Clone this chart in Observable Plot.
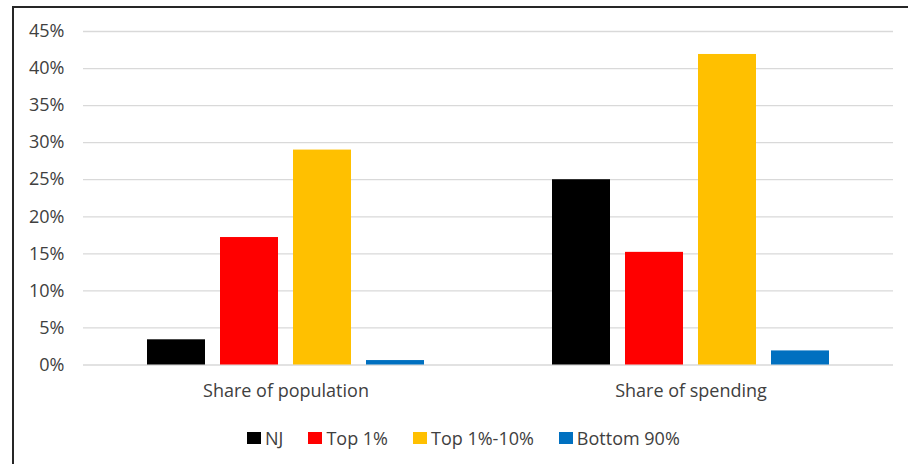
<!DOCTYPE html>
<html>
<head>
<meta charset="utf-8">
<script src="https://cdn.jsdelivr.net/npm/d3@7"></script>
<script src="https://cdn.jsdelivr.net/npm/@observablehq/plot@0.6"></script>
<style>
  html, body { margin: 0; padding: 0; background: #fff; }
  body { width: 908px; height: 464px; position: relative; overflow: hidden; font-family: "Open Sans", sans-serif; }
  #frame { position: absolute; left: 12px; top: 6px; width: 1000px; height: 1000px;
           border-top: 2px solid #262626; border-left: 2px solid #262626; }
  #chart { position: absolute; left: 0; top: 0; }
  #legend { position: absolute; left: 247px; top: 426px; display: flex; align-items: center;
            font-size: 18px; color: #404040; white-space: nowrap; }
  #legend .item { display: flex; align-items: center; margin-right: 25px; }
  #legend .sw { width: 14px; height: 12px; margin-right: 4px; }
</style>
</head>
<body>
<div id="frame"></div>
<div id="chart"></div>
<div id="legend"></div>
<script>
const categories = ["Share of population", "Share of spending"];
const groups = ["NJ", "Top 1%", "Top 1%-10%", "Bottom 90%"];
const colors = ["#000000", "#ff0000", "#ffc000", "#0070c0"];
const populationValues = [3.4, 17.2, 29, 0.6];
const spendingValues = [25, 15.2, 41.9, 1.9];
const yTicks = [0, 5, 10, 15, 20, 25, 30, 35, 40, 45];

const seriesByCategory = [populationValues, spendingValues];
const data = categories.flatMap((c, i) =>
  groups.map((g, j) => ({category: c, group: g, value: seriesByCategory[i][j]}))
);

const chart = Plot.plot({
  width: 908,
  height: 410,
  marginLeft: 83,
  marginRight: 15,
  marginTop: 31,
  marginBottom: 45.5,
  style: {fontFamily: "'Open Sans', sans-serif", fontSize: "18px", color: "#404040", background: "transparent"},
  fx: {domain: categories, padding: 0, label: null, axis: "bottom", tickSize: 0, tickPadding: 19},
  x: {domain: groups, axis: null, paddingInner: 0.2, paddingOuter: 0.87},
  y: {domain: [0, 45], ticks: yTicks, tickFormat: d => d + "%", tickSize: 0, tickPadding: 19, label: null},
  color: {domain: groups, range: colors},
  marks: [
    Plot.ruleY(yTicks, {stroke: "#d9d9d9", strokeWidth: 1.3}),
    Plot.barY(data, {fx: "category", x: "group", y: "value", fill: "group"})
  ]
});
document.getElementById("chart").appendChild(chart);

const legend = document.getElementById("legend");
groups.forEach((g, i) => {
  const item = document.createElement("div");
  item.className = "item";
  const sw = document.createElement("span");
  sw.className = "sw";
  sw.style.background = colors[i];
  const t = document.createElement("span");
  t.textContent = g;
  item.appendChild(sw);
  item.appendChild(t);
  legend.appendChild(item);
});
</script>
</body>
</html>
